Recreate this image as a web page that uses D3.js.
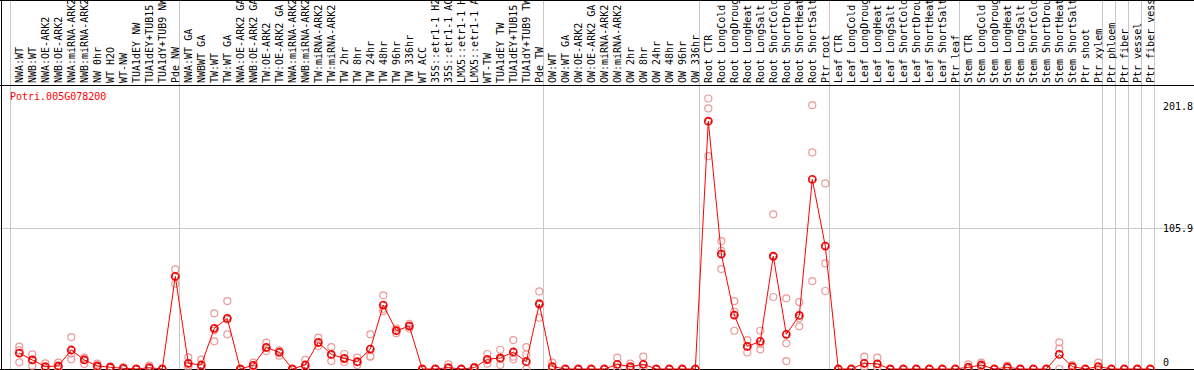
<!DOCTYPE html>
<html>
<head>
<meta charset="utf-8">
<script src="https://cdn.jsdelivr.net/npm/d3@7"></script>
<style>
  body { margin: 0; background: #fff; }
  svg { display: block; font-family: "DejaVu Sans Mono", "Liberation Mono", monospace; }
</style>
</head>
<body>
<svg id="chart" width="1194" height="370"></svg>
<script>
// sample names, in plotting order
var samples = [
  "NWA:WT", "NWB:WT", "NWA:OE-ARK2", "NWB:OE-ARK2", "NWA:miRNA-ARK2", "NWB:miRNA-ARK2",
  "NW 0hr", "WT H2O", "WT-NW", "TUA1dEY NW", "TUA1dEY+TUB15 NW", "TUA1dY+TUB9 NW", "Pde NW",
  "NWA:WT GA", "NWBWT GA", "TW:WT", "TW:WT GA", "NWA:OE-ARK2 GA", "NWB:OE-ARK2 GA",
  "TW:OE-ARK2", "TW:OE-ARK2 GA", "NWA:miRNA-ARK2 GA", "NWB:miRNA-ARK2 GA", "TW:miRNA-ARK2",
  "TW:miRNA-ARK2 GA", "TW 2hr", "TW 8hr", "TW 24hr", "TW 48hr", "TW 96hr", "TW 336hr",
  "WT ACC", "35S::etr1-1 H2O", "35S::etr1-1 ACC", "LMX5::etr1-1 H2O", "LMX5::etr1-1 ACC",
  "WT-TW", "TUA1dEY TW", "TUA1dEY+TUB15 TW", "TUA1dY+TUB9 TW", "Pde TW",
  "OW:WT", "OW:WT GA", "OW:OE-ARK2", "OW:OE-ARK2 GA", "OW:miRNA-ARK2", "OW:miRNA-ARK2 GA",
  "OW 2hr", "OW 8hr", "OW 24hr", "OW 48hr", "OW 96hr", "OW 336hr",
  "Root CTR", "Root LongCold", "Root LongDrought", "Root LongHeat", "Root LongSalt",
  "Root ShortCold", "Root ShortDrought", "Root ShortHeat", "Root ShortSalt", "Ptr root",
  "Leaf CTR", "Leaf LongCold", "Leaf LongDrought", "Leaf LongHeat", "Leaf LongSalt",
  "Leaf ShortCold", "Leaf ShortDrought", "Leaf ShortHeat", "Leaf ShortSalt", "Ptr leaf",
  "Stem CTR", "Stem LongCold", "Stem LongDrought", "Stem LongHeat", "Stem LongSalt",
  "Stem ShortCold", "Stem ShortDrought", "Stem ShortHeat", "Stem ShortSalt", "Ptr shoot",
  "Ptr xylem", "Ptr phloem", "Ptr fiber", "Ptr vessel", "Ptr fiber vessel"
];

// mean expression per sample
var means = [
  12.0, 6.8, 1.8, 2.3, 14.3, 6.8, 2.3, 1.3, 0.5, 0, 1.0, 0, 69.7,
  4.3, 3.0, 30.6, 38.1, 0, 2.8, 16.3, 12.5, 0, 3.0, 20.1, 11.0, 8.0, 5.5, 15.0,
  48.1, 28.8, 32.3, 0, 0, 1.0, 0, 1.0, 7.3, 8.3, 12.8, 5.5, 48.9,
  1.8, 0, 0, 0, 0, 3.5, 1.8, 3.5, 0, 0, 0, 0,
  186.5, 86.5, 40.6, 17.0, 20.8, 85.0, 26.1, 40.3, 142.7, 92.5,
  0, 0, 4.3, 3.8, 0, 0, 0, 0, 0, 0,
  1.3, 3.0, 0, 1.3, 0, 0, 0, 11.0, 1.8, 0,
  1.8, 0, 0, 0, 0
];

// individual replicates per sample
var reps = [
  [16.8, 5.0, 14.0], [11.0, 2.5, 6.9], [4.3, 0.5, 0.6], [4.8, 0.8, 1.3], [24.0, 7.3, 11.6],
  [8.5, 3.8, 8.1], [4.0, 1.5, 1.4], [2.0, 1.0, 0.9], [1.5, 0, 0], [0, 0, 0], [2.5, 0.3, 0.2],
  [0, 0, 0], [75.0, 64.2, 69.9],
  [8.8, 1.5, 2.6], [7.0, 1.0, 1.0], [41.9, 20.8, 29.1], [51.1, 26.1, 37.1], [0, 0, 0],
  [4.8, 1.8, 1.8], [19.8, 13.5, 15.6], [14.0, 10.0, 13.5], [0, 0, 0], [6.8, 1.0, 1.2],
  [23.6, 17.3, 19.4], [16.5, 6.0, 10.5], [11.3, 5.3, 7.4], [8.5, 3.0, 5.0],
  [26.1, 9.3, 9.6], [55.4, 43.6, 45.3], [30.5, 27.0, 28.9], [34.0, 30.5, 32.4],
  [0, 0, 0], [0, 0, 0], [3.5, 0, 0], [0, 0, 0], [1.5, 1.0, 0.5], [11.3, 4.0, 6.6],
  [14.5, 3.0, 7.4], [21.8, 7.3, 9.3], [16.5, 11.0, 0], [58.4, 38.6, 49.7],
  [4.8, 0.3, 0.3], [0, 0, 0], [0, 0, 0], [0, 0, 0], [0, 0, 0], [8.5, 1.0, 1.0],
  [4.0, 0.8, 0.6], [9.3, 0.5, 0.7], [0, 0, 0], [0, 0, 0], [0, 0, 0], [0, 0, 0],
  [203.6, 196.1, 160.2], [96.3, 89.0, 75.2], [51.1, 43.1, 28.8], [21.8, 12.5, 16.7],
  [28.8, 14.8, 18.8], [116.4, 54.2, 84.4], [53.2, 19.3, 6.0], [50.4, 32.1, 38.4],
  [198.6, 163.0, 66.2], [139.7, 79.5, 58.7],
  [0, 0, 0], [0, 0, 0], [9.3, 1.8, 1.8], [8.5, 1.5, 1.4], [0, 0, 0], [0, 0, 0],
  [0, 0, 0], [0, 0, 0], [0, 0, 0], [0, 0, 0],
  [3.5, 0.2, 0.2], [4.8, 2.2, 2.0], [0, 0, 0], [2.5, 0.7, 0.7], [0, 0, 0], [0, 0, 0],
  [0, 0, 0], [20.1, 15.3, 0], [3.0, 1.2, 1.2], [0, 0, 0],
  [4.8, 0.3, 0.3], [0, 0, 0], [0, 0, 0], [0, 0, 0], [0, 0, 0]
];

// last sample index of each block (vertical separators)
var groupEnds = [-1, 12, 40, 52, 62, 72, 83, 84, 85, 86, 87];

var geneName = "Potri.005G078200";
var yTicks = [201.8, 105.9, 0];
var yMid = 105.9;

var W = 1194, H = 370;
var headerBottom = 85.5, plotBottom = 369;
var svg = d3.select("#chart");

var x = d3.scaleBand()
  .domain(d3.range(samples.length))
  .range([12.8, 12.8 + 13 * samples.length]);
var cx = function(i) { return x(i) + x.bandwidth() / 2; };

var y = d3.scaleLinear()
  .domain([0, yMid * 2])
  .range([plotBottom, 87.6]);

// gray grid
svg.append("line")
  .attr("x1", 0).attr("x2", W)
  .attr("y1", Math.round(y(yMid)) + 0.5).attr("y2", Math.round(y(yMid)) + 0.5)
  .style("stroke", "#c8c8c8");

svg.selectAll("line.sep")
  .data(groupEnds)
  .enter().append("line")
    .attr("class", "sep")
    .attr("x1", function(d) { return Math.round(cx(0) + 13 * d + 5) - 0.5; })
    .attr("x2", function(d) { return Math.round(cx(0) + 13 * d + 5) - 0.5; })
    .attr("y1", 0).attr("y2", plotBottom)
    .style("stroke", "#c8c8c8");

// frame
svg.append("line").attr("x1", 0).attr("x2", W).attr("y1", 0.5).attr("y2", 0.5).style("stroke", "#000");
svg.append("line").attr("x1", 0).attr("x2", W).attr("y1", headerBottom).attr("y2", headerBottom).style("stroke", "#000");
svg.append("line").attr("x1", 0).attr("x2", W).attr("y1", plotBottom + 0.5).attr("y2", plotBottom + 0.5).style("stroke", "#000");
svg.append("line").attr("x1", 1.5).attr("x2", 1.5).attr("y1", 0).attr("y2", H).style("stroke", "#000");

// sample labels, rotated
svg.selectAll("text.sample")
  .data(samples)
  .enter().append("text")
    .attr("class", "sample")
    .attr("transform", function(d, i) { return "translate(" + (cx(i) + 4) + ",83) rotate(-90)"; })
    .style("font-size", "10px")
    .style("fill", "#000")
    .text(function(d) { return d; });

// gene name
svg.append("text")
  .attr("x", 10).attr("y", 100)
  .style("font-size", "10px")
  .style("fill", "#ff0000")
  .text(geneName);

// y labels
svg.selectAll("text.ytick")
  .data(yTicks)
  .enter().append("text")
    .attr("class", "ytick")
    .attr("x", 1163)
    .attr("y", function(d) { return Math.max(106, Math.min(362, y(d))); })
    .attr("dy", "0.35em")
    .style("font-size", "10px")
    .style("fill", "#000")
    .text(function(d) { return d; });

// replicate points
var repPts = [];
reps.forEach(function(r, i) { r.forEach(function(v) { repPts.push({i: i, v: v}); }); });
svg.selectAll("circle.rep")
  .data(repPts)
  .enter().append("circle")
    .attr("class", "rep")
    .attr("cx", function(d) { return cx(d.i); })
    .attr("cy", function(d) { return y(d.v); })
    .attr("r", 3.5)
    .style("fill", "none")
    .style("stroke", "#ec9a9a")
    .style("stroke-width", 1.2);

// mean line
svg.append("path")
  .datum(means)
  .attr("d", d3.line().x(function(d, i) { return cx(i); }).y(function(d) { return y(d); }))
  .style("fill", "none")
  .style("stroke", "#ff0000")
  .style("stroke-width", 1);

// mean points
var mg = svg.selectAll("g.mean")
  .data(means)
  .enter().append("g")
    .attr("class", "mean")
    .attr("transform", function(d, i) { return "translate(" + cx(i) + "," + y(d) + ")"; });
mg.append("circle")
  .attr("r", 3.6)
  .style("fill", "none")
  .style("stroke", "#ff0000")
  .style("stroke-width", 1.6);
mg.append("circle")
  .attr("r", 2.6)
  .style("fill", "none")
  .style("stroke", "#000")
  .style("stroke-width", 0.6)
  .style("stroke-dasharray", "1.5,2.5");
</script>
</body>
</html>
